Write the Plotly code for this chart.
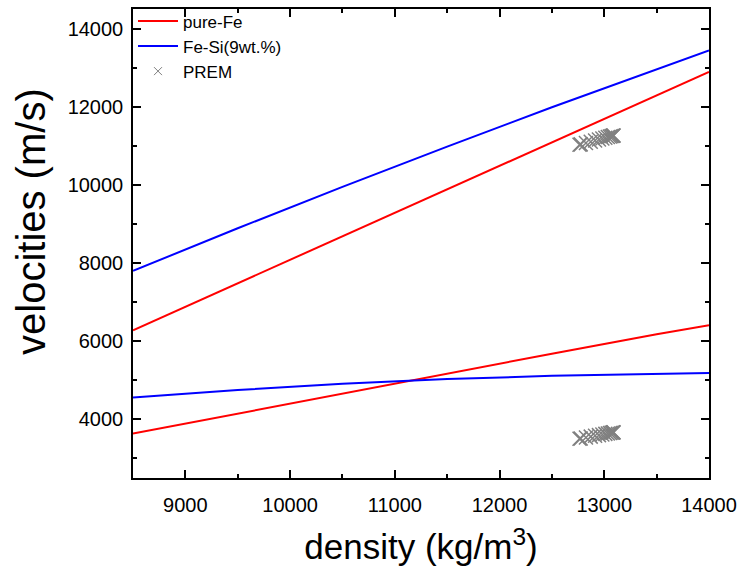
import plotly.graph_objects as go

# Model curves (density kg/m^3 -> velocity m/s)
dens_grid = [8500, 9500, 10500, 11500, 12500, 13500, 14000]
fe_vp = [6280, 7480, 8680, 9880, 11080, 12290, 12890]
fe_vs = [3635, 4150, 4665, 5175, 5680, 6180, 6410]
fesi_vp = [7800, 8890, 9950, 10980, 11985, 12960, 13440]
fesi_vs = [4560, 4750, 4910, 5030, 5115, 5170, 5185]

# PREM inner core
prem_rho = [12763.6, 12775.0, 12825.0, 12870.8, 12912.1, 12949.1, 12981.8,
            13010.1, 13034.1, 13053.7, 13068.9, 13079.8, 13086.3, 13088.5]
prem_vp = [11028.3, 11036.4, 11072.5, 11105.4, 11135.2, 11161.9, 11185.4,
           11205.8, 11223.0, 11237.1, 11248.1, 11255.9, 11260.6, 11262.2]
prem_vs = [3504.3, 3510.0, 3535.2, 3558.2, 3579.0, 3597.7, 3614.1,
           3628.4, 3640.4, 3650.3, 3657.9, 3663.4, 3666.7, 3667.8]

FONT = "Liberation Sans, Arial, sans-serif"
GRAY = "#808080"

fig = go.Figure()
fig.add_trace(go.Scatter(x=dens_grid, y=fe_vp, mode="lines", name="pure-Fe",
                         line=dict(color="#ff0000", width=2), legendgroup="fe"))
fig.add_trace(go.Scatter(x=dens_grid, y=fe_vs, mode="lines", name="pure-Fe",
                         line=dict(color="#ff0000", width=2), legendgroup="fe", showlegend=False))
fig.add_trace(go.Scatter(x=dens_grid, y=fesi_vp, mode="lines", name="Fe-Si(9wt.%)",
                         line=dict(color="#0000ff", width=2), legendgroup="fesi"))
fig.add_trace(go.Scatter(x=dens_grid, y=fesi_vs, mode="lines", name="Fe-Si(9wt.%)",
                         line=dict(color="#0000ff", width=2), legendgroup="fesi", showlegend=False))
# legend-only entry with a small marker
fig.add_trace(go.Scatter(x=[None], y=[None], mode="markers", name="PREM",
                         marker=dict(symbol="x-thin-open", size=8, color=GRAY,
                                     line=dict(color=GRAY, width=1)),
                         legendgroup="prem"))
for vel in (prem_vp, prem_vs):
    fig.add_trace(go.Scatter(x=prem_rho, y=vel, mode="markers", name="PREM",
                             marker=dict(symbol="x-thin-open", size=14, color=GRAY,
                                         line=dict(color=GRAY, width=1.5)),
                             legendgroup="prem", showlegend=False))

axis_common = dict(
    showgrid=False, zeroline=False, showline=True, linecolor="black", linewidth=1.5,
    mirror="ticks", ticks="inside", ticklen=8, tickwidth=1.5, tickcolor="black",
    tickformat="d",
    tickfont=dict(family=FONT, size=20, color="black"),
)

fig.update_layout(
    width=745, height=577,
    margin=dict(l=133, r=36, t=9, b=99, autoexpand=False),
    paper_bgcolor="white", plot_bgcolor="white",
    font=dict(family=FONT, color="black"),
    xaxis=dict(range=[8500, 14000], dtick=1000, tick0=9000, ticklabelstandoff=8,
               minor=dict(dtick=500, ticks="inside", ticklen=4, tickwidth=1.5, tickcolor="black"),
               title=dict(text="density (kg/m<sup>3</sup>)", font=dict(family=FONT, size=35), standoff=20),
               **axis_common),
    yaxis=dict(range=[2500, 14500], dtick=2000, tick0=4000, ticklabelstandoff=4,
               minor=dict(dtick=1000, ticks="inside", ticklen=4, tickwidth=1.5, tickcolor="black"),
               **axis_common),
    legend=dict(x=0.0, y=1.012, xanchor="left", yanchor="top", bgcolor="rgba(0,0,0,0)",
                font=dict(family=FONT, size=17), tracegroupgap=0, itemwidth=40),
    showlegend=True,
    annotations=[dict(text="velocities (m/s)", textangle=-90, showarrow=False,
                      xref="paper", yref="paper",
                      x=(31 - 133) / 576, y=(478 - 222) / 469,
                      xanchor="center", yanchor="middle",
                      font=dict(family=FONT, size=40, color="black"))],
)

fig.write_html("out.html")
